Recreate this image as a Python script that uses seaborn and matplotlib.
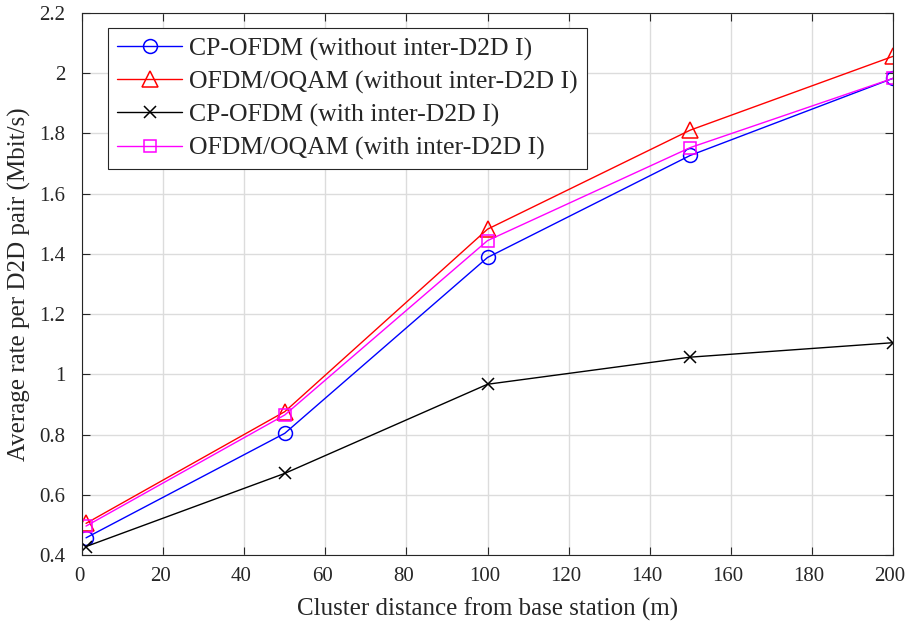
import numpy as np
import matplotlib
matplotlib.use("Agg")
import matplotlib.pyplot as plt
import matplotlib.transforms as mtransforms
import seaborn as sns
import pandas as pd
from matplotlib.ticker import FuncFormatter

# Data
distance = [1, 50, 100, 150, 200]
cp_without = [0.457, 0.804, 1.388, 1.727, 1.983]
oqam_without = [0.505, 0.876, 1.482, 1.811, 2.056]
cp_with = [0.428, 0.671, 0.967, 1.057, 1.105]
oqam_with = [0.496, 0.865, 1.444, 1.753, 1.983]

labels = [
    "CP-OFDM (without inter-D2D I)",
    "OFDM/OQAM (without inter-D2D I)",
    "CP-OFDM (with inter-D2D I)",
    "OFDM/OQAM (with inter-D2D I)",
]
series = [cp_without, oqam_without, cp_with, oqam_with]
colors = ["#0000ff", "#ff0000", "#000000", "#ff00ff"]
markers = ["o", "^", "x", "s"]
sizes = [10, 11, 9, 8]

sns.set_style("ticks")
plt.rcParams['font.family'] = ['Liberation Serif', 'DejaVu Serif']

fig = plt.figure(figsize=(9.06, 6.24), dpi=100)
ax = fig.add_axes([0.0905, 0.1106, 0.8952, 0.8686])

for vals, lab, c, m, s in zip(series, labels, colors, markers, sizes):
    sns.lineplot(x=distance, y=vals, ax=ax, color=c, marker=m, markersize=s,
                 markerfacecolor='none', markeredgecolor=c, markeredgewidth=1.1,
                 linewidth=1.0, label=lab)

ax.set_xlim(0, 200)
ax.set_ylim(0.4, 2.2)
ax.set_xticks(np.arange(0, 201, 20))
ax.set_yticks(np.arange(0.4, 2.21, 0.2))
ax.yaxis.set_major_formatter(FuncFormatter(lambda v, p: f"{v:.1f}".rstrip('0').rstrip('.')))
ax.grid(True, color="#dcdcdc", linewidth=1.0)
ax.set_axisbelow(True)
ax.tick_params(direction='in', top=True, right=True, length=6, width=0.8,
               labelsize=15, colors="#262626", labelcolor="#262626")
ax.tick_params(axis='y', pad=12)
ax.tick_params(axis='x', pad=9)
for sp in ax.spines.values():
    sp.set_visible(True)
    sp.set_color("#262626")
    sp.set_linewidth(0.8)

# x tick labels sit a few pixels left of their ticks in the original
shift = mtransforms.ScaledTranslation(-3 / 100, 0, fig.dpi_scale_trans)
for t in ax.get_xticklabels():
    t.set_transform(t.get_transform() + shift)

ax.set_xlabel("Cluster distance from base station (m)", fontsize=18,
              color="#262626", labelpad=8)
ax.set_ylabel("Average rate per D2D pair (Mbit/s)", fontsize=18,
              color="#262626", labelpad=6)

leg = ax.legend(loc="upper left", bbox_to_anchor=(0.032, 0.972), fontsize=18.5,
                frameon=True, fancybox=False, framealpha=1, edgecolor="#262626",
                borderaxespad=0, handlelength=2.55, borderpad=0.35,
                labelspacing=0.38, handletextpad=0.25)
leg.get_frame().set_linewidth(0.8)

fig.savefig("out.png", dpi=100)
